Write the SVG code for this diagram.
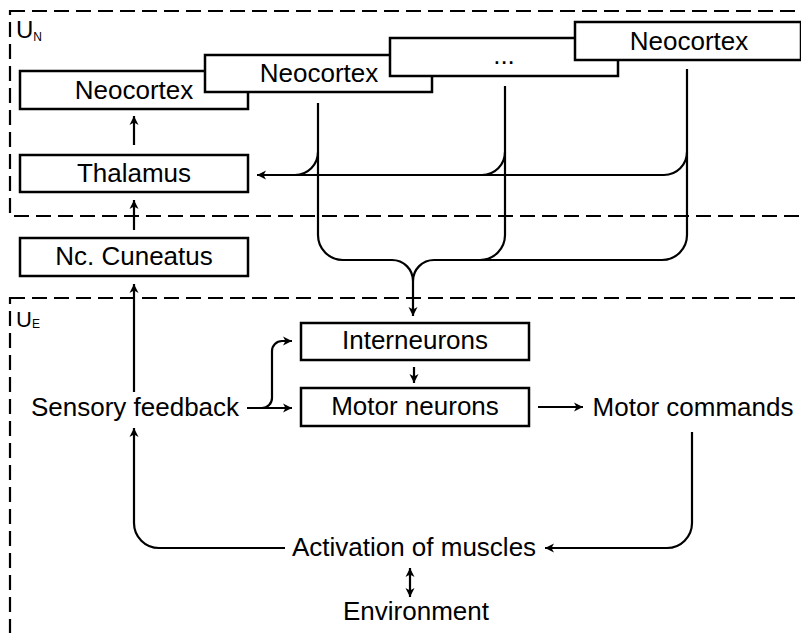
<svg xmlns="http://www.w3.org/2000/svg" width="801" height="633" viewBox="0 0 801 633">
<style>
  .box { fill: #fff; stroke: #000; stroke-width: 2.5; }
  .t { font-family: "Liberation Sans", Arial, Helvetica, sans-serif; font-size: 26px; fill: #000; text-anchor: middle; }
  .region { fill: none; stroke: #000; stroke-width: 2.2; stroke-dasharray: 15 7; }
  .c { fill: none; stroke: #000; stroke-width: 2.2; }
  .lbl { font-family: "Liberation Sans", Arial, Helvetica, sans-serif; fill: #000; }
</style>
<defs>
  <marker id="ah" markerUnits="userSpaceOnUse" markerWidth="12" markerHeight="12" viewBox="0 0 12 12" refX="10" refY="6" orient="auto-start-reverse">
    <path d="M1,1.5 L10,6 L1,10.5 L3.5,6 Z" fill="#000"/>
  </marker>
</defs>

<g id="regions">
  <rect class="region" x="10" y="11" width="820" height="205"/>
  <rect class="region" x="10" y="298" width="820" height="360"/>
  <text class="lbl" x="16" y="38" font-size="24">U<tspan font-size="12" dy="3">N</tspan></text>
  <text class="lbl" x="16" y="327" font-size="22">U<tspan font-size="12" dy="1">E</tspan></text>
</g>

<g id="connectors">
  <path class="c" d="M134,145 V116" marker-end="url(#ah)"/>
  <path class="c" d="M134,230 V200" marker-end="url(#ah)"/>
  <path class="c" d="M134,392 V284" marker-end="url(#ah)"/>
  <path class="c" d="M285,548 H159 A25,25 0 0 1 134,523 V428" marker-end="url(#ah)"/>
  <path class="c" d="M692,432 V523 A25,25 0 0 1 667,548 H545" marker-end="url(#ah)"/>
  <path class="c" d="M538,407 H583" marker-end="url(#ah)"/>
  <path class="c" d="M247,408 H292" marker-end="url(#ah)"/>
  <path class="c" d="M262,408 A10,10 0 0 0 272,398 V351 A10,10 0 0 1 282,341 H292" marker-end="url(#ah)"/>
  <path class="c" d="M414,367 V383" marker-end="url(#ah)"/>
  <path class="c" d="M410,568 V597" marker-start="url(#ah)" marker-end="url(#ah)"/>
  <path class="c" d="M687,69 V152 A23,23 0 0 1 664,175 H257" marker-end="url(#ah)"/>
  <path class="c" d="M505,86 V152 A23,23 0 0 1 482,175"/>
  <path class="c" d="M318,103 V152 A23,23 0 0 1 295,175"/>
  <path class="c" d="M318,152 V235 A25,25 0 0 0 343,260 H392 A21,21 0 0 1 413,281"/>
  <path class="c" d="M505,152 V235 A25,25 0 0 1 480,260"/>
  <path class="c" d="M687,152 V235 A25,25 0 0 1 662,260 H434 A21,21 0 0 0 413,281 V316" marker-end="url(#ah)"/>
</g>

<g id="neocortex1"><rect class="box" x="20" y="71" width="228" height="38"/><text class="t" x="134" y="99">Neocortex</text></g>
<g id="neocortex2"><rect class="box" x="205" y="55" width="227" height="37"/><text class="t" x="319" y="82">Neocortex</text></g>
<g id="neocortex3"><rect class="box" x="390" y="38" width="228" height="38"/><text class="t" x="504" y="64">...</text></g>
<g id="neocortex4"><rect class="box" x="575" y="22" width="226" height="38"/><text class="t" x="689" y="50">Neocortex</text></g>
<g id="thalamus"><rect class="box" x="20" y="155" width="228" height="37"/><text class="t" x="134" y="182">Thalamus</text></g>
<g id="cuneatus"><rect class="box" x="20" y="238" width="228" height="38"/><text class="t" x="134" y="265">Nc. Cuneatus</text></g>
<g id="interneurons"><rect class="box" x="301" y="323" width="228" height="37"/><text class="t" x="415" y="349">Interneurons</text></g>
<g id="motorneurons"><rect class="box" x="301" y="388" width="228" height="38"/><text class="t" x="415" y="415">Motor neurons</text></g>
<g id="sensory"><text class="t" x="135" y="416">Sensory feedback</text></g>
<g id="motorcommands"><text class="t" x="693" y="416">Motor commands</text></g>
<g id="activation"><text class="t" x="414" y="556">Activation of muscles</text></g>
<g id="environment"><text class="t" x="416" y="620">Environment</text></g>
</svg>
